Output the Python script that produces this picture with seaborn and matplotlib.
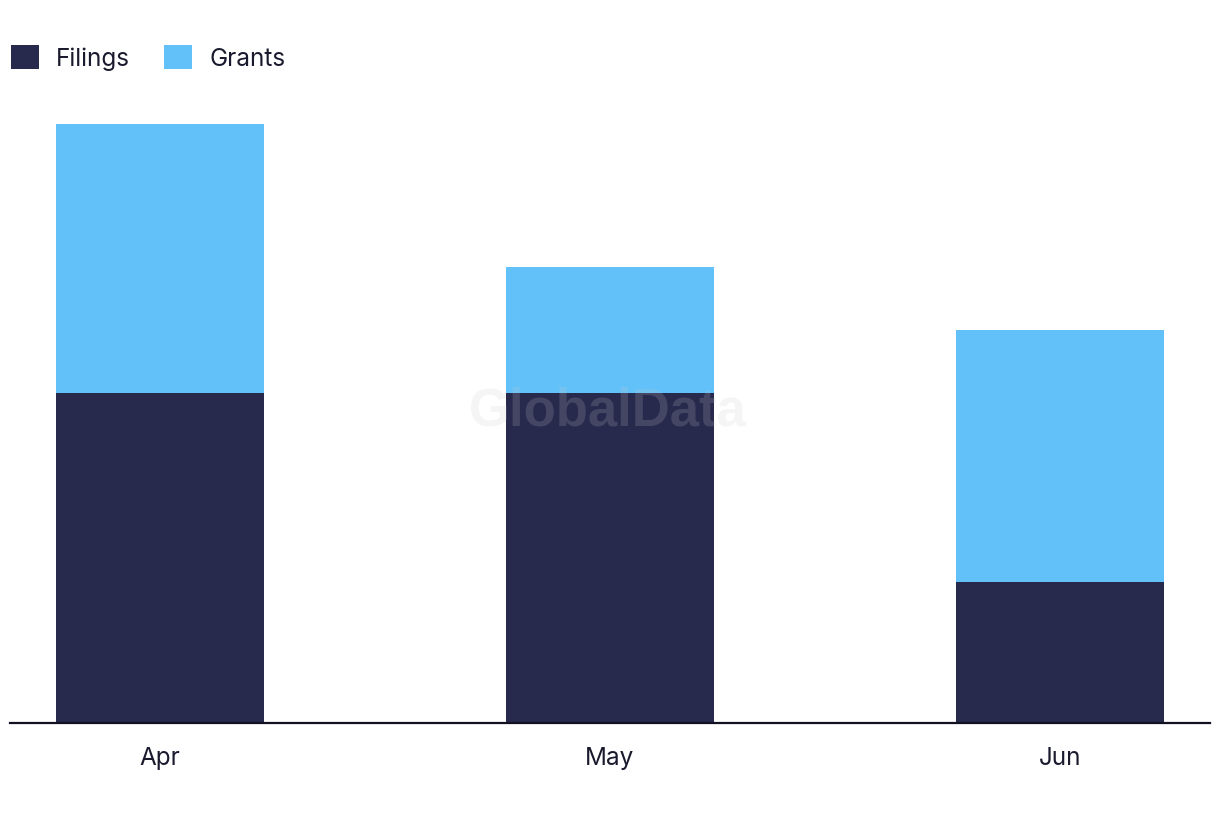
import matplotlib
matplotlib.use("Agg")
import matplotlib.pyplot as plt
import seaborn as sns
import pandas as pd
from matplotlib.patches import Patch

months = ["Apr", "May", "Jun"]
filings = [21.0, 21.0, 9.0]
grants = [17.1, 8.0, 16.0]

dark = "#272A4C"
light = "#62C1F8"

sns.set_theme(style="white")
plt.rcParams['font.family'] = ['Inter', 'DejaVu Sans']

df = pd.DataFrame({"month": months, "filings": filings, "grants": grants})
df["total"] = df["filings"] + df["grants"]

fig = plt.figure(figsize=(12.2, 8.22), dpi=100)
ax = fig.add_axes([10/1220, 99/822, 1200/1220, (723-124)/822])

sns.barplot(data=df, x="month", y="total", color=light, width=0.462, ax=ax,
            saturation=1, linewidth=0, edgecolor="none")
sns.barplot(data=df, x="month", y="filings", color=dark, width=0.462, ax=ax,
            saturation=1, linewidth=0, edgecolor="none")

ax.set_xlim(-1/3, 2 + 1/3)
ax.set_ylim(0, df["total"].max())
ax.set_xlabel("")
ax.set_ylabel("")
ax.set_yticks([])
for s in ["top", "right", "left"]:
    ax.spines[s].set_visible(False)
ax.spines["bottom"].set_color("#111122")
ax.spines["bottom"].set_linewidth(1.6)
ax.tick_params(axis="x", length=0, pad=17, labelsize=17.5, labelcolor="#1a1a2e")

fig.text(608/1220, 1 - 411/822, "GlobalData", ha="center", va="center",
         fontsize=38, fontweight="bold", color="#c8c8d0", alpha=0.18,
         family=["Liberation Sans", "DejaVu Sans"])

handles = [Patch(facecolor=dark, edgecolor="none", label="Filings"),
           Patch(facecolor=light, edgecolor="none", label="Grants")]
leg = fig.legend(handles=handles, loc="upper left", bbox_to_anchor=(4/1220, 1 - 38/822),
                 ncol=2, frameon=False, fontsize=17.5, handlelength=1.15, handleheight=1.15,
                 handletextpad=0.7, columnspacing=1.4, borderaxespad=0, borderpad=0.3)
for t in leg.get_texts():
    t.set_color("#1a1a2e")

fig.savefig("out.png", dpi=100)
